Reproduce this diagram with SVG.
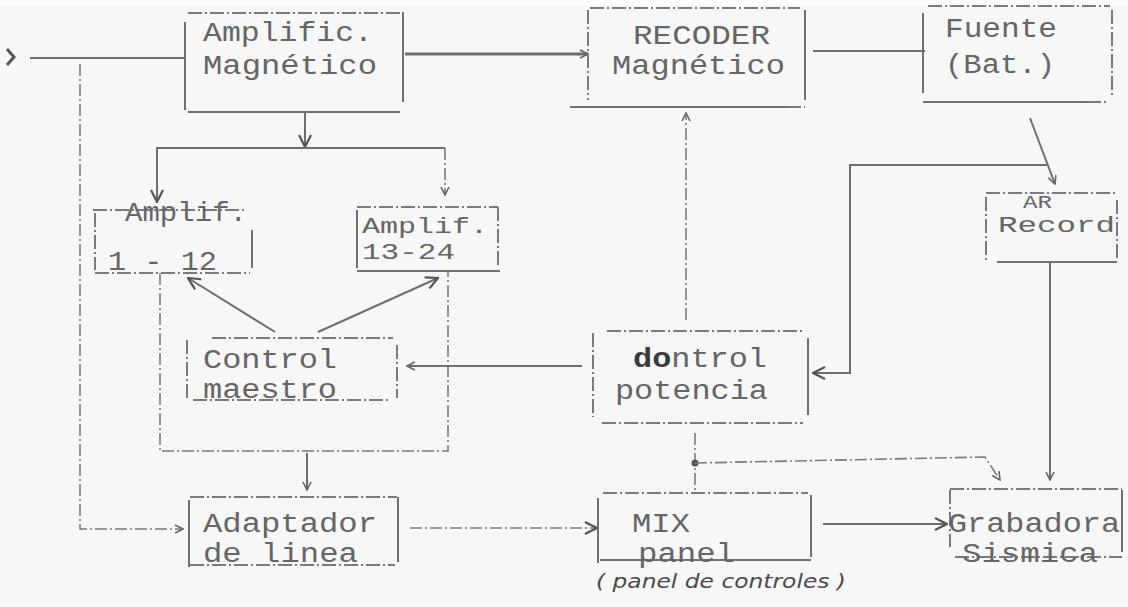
<svg xmlns="http://www.w3.org/2000/svg" width="1128" height="607" viewBox="0 0 1128 607">
<style>
.bg{fill:#f7f7f7}
.s{fill:none;stroke:#707070;stroke-width:2}
.d{fill:none;stroke:#7a7a7a;stroke-width:2;stroke-dasharray:14 3 2 3}
.c{fill:none;stroke:#6e6e6e;stroke-width:2}
.cd{fill:none;stroke:#7a7a7a;stroke-width:1.6;stroke-dasharray:12 3 2 3}
.t{font-family:"Liberation Mono","DejaVu Sans Mono",monospace;font-size:27px;fill:#656565}
.ts{font-family:"Liberation Mono","DejaVu Sans Mono",monospace;font-size:22px;fill:#656565}
.h{font-family:"DejaVu Sans","Liberation Sans",sans-serif;font-style:italic;font-size:19px;fill:#4a4a4a}
</style>
<defs>
<marker id="ah" viewBox="0 0 10 10" refX="9" refY="5" markerWidth="10" markerHeight="10" markerUnits="userSpaceOnUse" orient="auto">
<path d="M1,1 L9,5 L1,9" fill="none" stroke="#666" stroke-width="1.6"/>
</marker>
<marker id="ahb" viewBox="0 0 14 14" refX="13" refY="7" markerWidth="14" markerHeight="14" markerUnits="userSpaceOnUse" orient="auto">
<path d="M1,1 L13,7 L1,13" fill="none" stroke="#555" stroke-width="2.2"/>
</marker>
</defs>
<rect class="bg" x="0" y="0" width="1128" height="607"/>
<rect x="0" y="0" width="1128" height="6" fill="#fdfdfd"/>

<g id="connectors">
<path class="c" d="M7,49 L14,57 L7,65" style="stroke-width:3;stroke:#555"/>
<path class="c" d="M30,58 H185"/>
<path class="cd" d="M80,64 V529 H183" marker-end="url(#ah)"/>
<path class="c" d="M405,54 H588" marker-end="url(#ah)" style="stroke-width:3"/>
<path class="c" d="M813,51 H925"/>
<path class="c" d="M305,112 V147" marker-end="url(#ahb)"/>
<path class="c" d="M305,148 H157 V202" marker-end="url(#ahb)"/>
<path class="c" d="M305,148 H445"/>
<path class="cd" d="M445,148 V195" marker-end="url(#ah)"/>
<path class="c" d="M275,332 L188,278" marker-end="url(#ahb)"/>
<path class="c" d="M318,332 L438,278" marker-end="url(#ahb)"/>
<path class="cd" d="M160,273 V451 H448 V271"/>
<path class="c" d="M307,453 V490" marker-end="url(#ah)"/>
<path class="cd" d="M410,528 H597" marker-end="url(#ahb)"/>
<path class="c" d="M582,366 H407" marker-end="url(#ah)"/>
<path class="cd" d="M686,320 V113" marker-end="url(#ah)"/>
<path class="c" d="M1030,118 L1055,184" marker-end="url(#ah)"/>
<path class="c" d="M1047,165 H850 V373 H813" marker-end="url(#ahb)"/>
<path class="c" d="M1050,262 V480" marker-end="url(#ah)"/>
<path class="cd" d="M695,433 V493"/>
<circle cx="695" cy="463" r="3.5" fill="#555"/>
<path class="cd" d="M695,463 L985,457 L1000,480" marker-end="url(#ah)"/>
<path class="c" d="M823,524 H947" marker-end="url(#ahb)"/>
</g>

<g id="amplific-magnetico">
<path class="s" d="M185,22 V110"/>
<path class="d" d="M188,13 H400"/>
<path class="s" d="M403,12 V102"/>
<path class="s" d="M188,112 H400"/>
<text class="t" x="203" y="41" textLength="170" lengthAdjust="spacingAndGlyphs">Amplific.</text>
<text class="t" x="203" y="74" textLength="174" lengthAdjust="spacingAndGlyphs">Magnético</text>
</g>

<g id="recoder-magnetico">
<path class="d" d="M588,10 V100"/>
<path class="d" d="M590,8 H800"/>
<path class="s" d="M805,10 V100"/>
<path class="s" d="M570,107 H787"/>
<path class="d" d="M787,107 H805"/>
<text class="t" x="633" y="44" textLength="137" lengthAdjust="spacingAndGlyphs">RECODER</text>
<text class="t" x="612" y="74" textLength="173" lengthAdjust="spacingAndGlyphs">Magnético</text>
</g>

<g id="fuente">
<path class="s" d="M923,13 V93"/>
<path class="d" d="M928,6 H1110"/>
<path class="d" d="M1112,10 V98"/>
<path class="s" d="M923,102 H1087"/>
<path class="d" d="M1087,102 H1107"/>
<text class="t" x="945" y="37" textLength="112" lengthAdjust="spacingAndGlyphs">Fuente</text>
<text class="t" x="945" y="73" textLength="110" lengthAdjust="spacingAndGlyphs">(Bat.)</text>
</g>

<g id="amplif-1-12">
<path class="d" d="M93,210 H247"/>
<path class="d" d="M95,213 V270"/>
<path class="s" d="M252,230 V268"/>
<path class="d" d="M95,273 H250"/>
<text class="t" x="125" y="221" textLength="122" lengthAdjust="spacingAndGlyphs">Amplif.</text>
<text class="t" x="108" y="270" textLength="109" lengthAdjust="spacingAndGlyphs">1 - 12</text>
</g>

<g id="amplif-13-24">
<path class="d" d="M357,207 H498"/>
<path class="s" d="M357,210 V268"/>
<path class="d" d="M498,207 V265"/>
<path class="s" d="M357,271 H500"/>
<text class="ts" x="362" y="233" textLength="126" lengthAdjust="spacingAndGlyphs">Amplif.</text>
<text class="ts" x="362" y="259" textLength="93" lengthAdjust="spacingAndGlyphs">13-24</text>
</g>

<g id="ar-record">
<path class="d" d="M986,197 V260"/>
<path class="d" d="M986,193 H1118"/>
<path class="d" d="M1117,200 V260"/>
<path class="s" d="M997,262 H1117"/>
<text class="ts" x="1023" y="208" textLength="29" lengthAdjust="spacingAndGlyphs" style="font-size:18px">AR</text>
<text class="ts" x="998" y="232" textLength="117" lengthAdjust="spacingAndGlyphs">Record</text>
</g>

<g id="control-maestro">
<path class="d" d="M212,338 H393"/>
<path class="d" d="M187,340 V400"/>
<path class="d" d="M397,345 V398"/>
<path class="d" d="M193,400 H388"/>
<text class="t" x="203" y="368" textLength="134" lengthAdjust="spacingAndGlyphs">Control</text>
<text class="t" x="203" y="398" textLength="134" lengthAdjust="spacingAndGlyphs">maestro</text>
</g>

<g id="control-potencia">
<path class="d" d="M593,333 V417"/>
<path class="d" d="M607,331 H803"/>
<path class="s" d="M808,338 V415"/>
<path class="d" d="M602,423 H803"/>
<text class="t" x="633" y="367" textLength="134" lengthAdjust="spacingAndGlyphs"><tspan fill="#3a3a3a" font-weight="bold">do</tspan>ntrol</text>
<text class="t" x="615" y="399" textLength="153" lengthAdjust="spacingAndGlyphs">potencia</text>
</g>

<g id="adaptador-linea">
<path class="d" d="M190,497 H397"/>
<path class="s" d="M189,500 V567"/>
<path class="s" d="M398,497 V562"/>
<path class="d" d="M190,565 H395"/>
<text class="t" x="203" y="532" textLength="174" lengthAdjust="spacingAndGlyphs">Adaptador</text>
<text class="t" x="203" y="562" textLength="155" lengthAdjust="spacingAndGlyphs">de linea</text>
</g>

<g id="mix-panel">
<path class="s" d="M598,498 V563"/>
<path class="d" d="M603,493 H808"/>
<path class="s" d="M811,495 V557"/>
<path class="s" d="M600,560 H811"/>
<text class="t" x="632" y="532" textLength="58" lengthAdjust="spacingAndGlyphs">MIX</text>
<text class="t" x="638" y="562" textLength="97" lengthAdjust="spacingAndGlyphs">panel</text>
<text class="h" x="596" y="588" textLength="250" lengthAdjust="spacingAndGlyphs">( panel de controles )</text>
</g>

<g id="grabadora-sismica">
<path class="d" d="M950,489 H1122"/>
<path class="d" d="M950,490 V547"/>
<path class="s" d="M1122,490 V552"/>
<path class="d" d="M955,557 H1122"/>
<text class="t" x="948" y="532" textLength="172" lengthAdjust="spacingAndGlyphs">Grabadora</text>
<text class="t" x="962" y="562" textLength="136" lengthAdjust="spacingAndGlyphs">Sismica</text>
</g>
</svg>
